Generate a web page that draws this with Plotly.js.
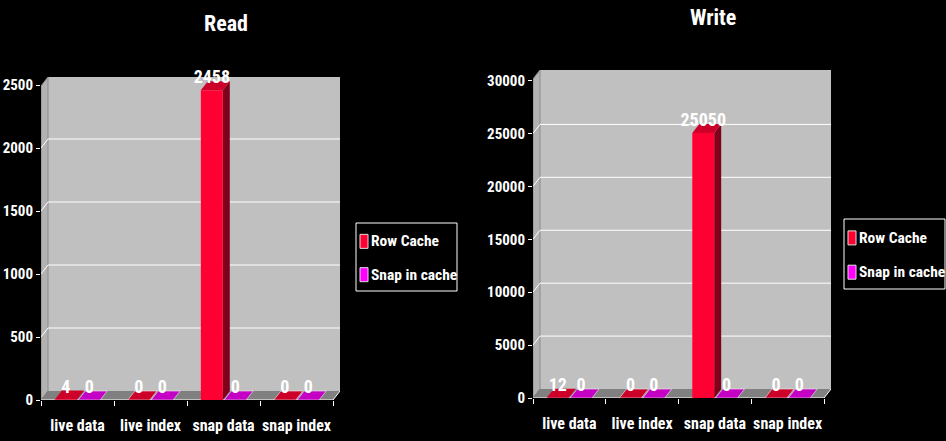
<!DOCTYPE html>
<html>
<head>
<meta charset="utf-8">
<script src="https://cdn.plot.ly/plotly-3.0.1.min.js"></script>
<style>
html,body{margin:0;padding:0;background:#000;}
#chart{width:946px;height:441px;}
</style>
</head>
<body>
<div id="chart"></div>
<script>
// ---- data ----
const categories = ["live data", "live index", "snap data", "snap index"];
const seriesNames = ["Row Cache", "Snap in cache"];
const readRowCache = [4, 0, 2458, 0];
const readSnapInCache = [0, 0, 0, 0];
const writeRowCache = [12, 0, 25050, 0];
const writeSnapInCache = [0, 0, 0, 0];
const readTicks = [0, 500, 1000, 1500, 2000, 2500];
const writeTicks = [0, 5000, 10000, 15000, 20000, 25000, 30000];
const chartTitles = ["Read", "Write"];

// ---- style ----
const FONT = '"Roboto Condensed", "Liberation Sans", sans-serif';
const W = 946, H = 441;
const COLORS = {
  front: ['#ff0033', '#ff00ff'],
  top: ['#cc0028', '#c400c4'],
  side: ['#80001c', '#800080']
};
const BARGAP = 0.36, BARGROUPGAP = 0.06;
const DEPTH_X_PX = 7, DEPTH_Y_PX = 9;

// subplot geometry in pixels (front face of the 3D box)
const panels = [
  {xa: 'x', ya: 'y', left: 41, right: 340, bottom: 400, top: 77, pxPerUnit: 315 / 2500,
   tickvals: readTicks, series: [readRowCache, readSnapInCache], title: chartTitles[0],
   titleX: 226, titleY: 23, legendBox: [356, 223, 457, 291]},
  {xa: 'x2', ya: 'y2', left: 533, right: 831, bottom: 398, top: 70, pxPerUnit: 317.5 / 30000,
   tickvals: writeTicks, series: [writeRowCache, writeSnapInCache], title: chartTitles[1],
   titleX: 713, titleY: 17, legendBox: [844, 219, 945, 289]}
];

const px = v => v / W, py = v => 1 - v / H;
const data = [];
const shapes = [];
const annotations = [];
const layout = {
  width: W, height: H,
  paper_bgcolor: '#000000', plot_bgcolor: 'rgba(0,0,0,0)',
  margin: {l: 0, r: 0, t: 0, b: 0},
  barmode: 'group', bargap: BARGAP, bargroupgap: BARGROUPGAP,
  showlegend: false,
  font: {family: FONT, color: '#ffffff'}
};

panels.forEach((p, pi) => {
  const xName = pi === 0 ? 'xaxis' : 'xaxis2';
  const yName = pi === 0 ? 'yaxis' : 'yaxis2';
  const widthPx = p.right - p.left;
  const slotPx = (widthPx - DEPTH_X_PX) / categories.length;
  const DX = DEPTH_X_PX / slotPx;                 // category units
  const DY = DEPTH_Y_PX / p.pxPerUnit;            // value units
  const yTop = (p.bottom - p.top) / p.pxPerUnit;
  const maxTick = p.tickvals[p.tickvals.length - 1];
  const xr0 = -0.5, xr1 = categories.length - 0.5;

  layout[xName] = {
    domain: [px(p.left), px(p.right)], anchor: p.ya,
    range: [xr0, xr1 + DX], type: 'category',
    tickfont: {color: '#ffffff', size: 16, family: FONT, weight: 'bold'},
    tickangle: 0, showgrid: false, showline: false, zeroline: false,
    ticks: 'outside', tickson: 'boundaries', ticklen: 5, tickcolor: '#ffffff',
    ticklabelstandoff: 14, fixedrange: true
  };
  layout[yName] = {
    domain: [py(p.bottom), py(p.top)], anchor: p.xa,
    range: [0, yTop], tickvals: p.tickvals, ticktext: p.tickvals.map(String),
    tickfont: {color: '#ffffff', size: 15, family: FONT, weight: 'bold'},
    showgrid: false, showline: false, zeroline: false,
    ticks: 'outside', ticklen: 4, tickcolor: '#ffffff', fixedrange: true
  };

  const ref = {xref: p.xa, yref: p.ya, layer: 'below'};
  const poly = (pts, fill, line) => Object.assign({
    type: 'path',
    path: 'M ' + pts.map(q => q[0] + ',' + q[1]).join(' L ') + ' Z',
    fillcolor: fill, line: line || {width: 0}
  }, ref);

  // back wall, left wall, floor
  shapes.push(poly([[xr0 + DX, DY], [xr1 + DX, DY], [xr1 + DX, yTop], [xr0 + DX, yTop]], '#c0c0c0'));
  shapes.push(poly([[xr0, 0], [xr0 + DX, DY], [xr0 + DX, yTop], [xr0, yTop - DY]], '#b2b2b2',
    {color: '#8c8c8c', width: 1}));
  shapes.push(poly([[xr0, 0], [xr1, 0], [xr1 + DX, DY], [xr0 + DX, DY]], '#808080'));
  // gridlines on back wall + slanted stubs on the left wall
  p.tickvals.forEach(t => {
    if (t === 0 || t === maxTick) return;
    shapes.push(Object.assign({type: 'line', x0: xr0 + DX, x1: xr1 + DX, y0: t + DY, y1: t + DY,
      line: {color: '#ffffff', width: 1}}, ref));
    shapes.push(Object.assign({type: 'line', x0: xr0, x1: xr0 + DX, y0: t, y1: t + DY,
      line: {color: '#ffffff', width: 1}}, ref));
  });
  // front floor edge (axis line)
  shapes.push(Object.assign({type: 'line', x0: xr0, x1: xr1, y0: 0, y1: 0,
    line: {color: '#ffffff', width: 1}}, ref));
  shapes.push(Object.assign({type: 'line', x0: xr1, x1: xr1 + DX, y0: 0, y1: DY,
    line: {color: '#ffffff', width: 1}}, ref));

  // bars: front faces via Plotly bars, top/side faces as 3D decoration
  const groupW = 1 - BARGAP;
  const slotW = groupW / p.series.length;
  const barW = slotW * (1 - BARGROUPGAP);
  p.series.forEach((vals, si) => {
    data.push({
      type: 'bar', x: categories, y: vals, name: seriesNames[si],
      xaxis: p.xa, yaxis: p.ya,
      marker: {color: COLORS.front[si], line: {width: 0}},
      text: vals.map(String), textposition: 'outside', cliponaxis: false, constraintext: 'none',
      textfont: {color: '#ffffff', size: 18, family: FONT, weight: 'bold'},
      hoverinfo: 'x+y'
    });
    vals.forEach((v, ci) => {
      const c = ci - groupW / 2 + slotW * (si + 0.5);
      const xl = c - barW / 2, xr = c + barW / 2;
      if (v > 0) {
        shapes.push(poly([[xr, 0], [xr, v], [xr + DX, v + DY], [xr + DX, DY]], COLORS.side[si]));
      }
      shapes.push(poly([[xl, v], [xr, v], [xr + DX, v + DY], [xl + DX, v + DY]], COLORS.top[si],
        {color: '#f0f0f0', width: v === 0 ? 0.6 : 0}));
    });
  });

  // title
  annotations.push({text: p.title, x: px(p.titleX), y: py(p.titleY), xref: 'paper', yref: 'paper',
    xanchor: 'center', yanchor: 'middle', showarrow: false,
    font: {size: 22, color: '#ffffff', family: FONT, weight: 'bold'}});

  // legend box
  const [bx0, by0, bx1, by1] = p.legendBox;
  shapes.push({type: 'rect', xref: 'paper', yref: 'paper', x0: px(bx0), x1: px(bx1), y0: py(by1), y1: py(by0),
    fillcolor: '#000000', line: {color: '#ffffff', width: 1}, layer: 'above'});
  seriesNames.forEach((nm, si) => {
    const cy = by0 + (by1 - by0) * (si === 0 ? 0.27 : 0.76);
    shapes.push({type: 'rect', xref: 'paper', yref: 'paper',
      x0: px(bx0 + 4), x1: px(bx0 + 12), y0: py(cy + 7), y1: py(cy - 7),
      fillcolor: COLORS.front[si], line: {color: '#dddddd', width: 1}, layer: 'above'});
    annotations.push({text: nm, x: px(bx0 + 13), y: py(cy), xref: 'paper', yref: 'paper',
      xanchor: 'left', yanchor: 'middle', showarrow: false,
      font: {size: 15.5, color: '#ffffff', family: FONT, weight: 'bold'}});
  });
});

layout.shapes = shapes;
layout.annotations = annotations;

Plotly.newPlot('chart', data, layout, {displayModeBar: false, staticPlot: true});
</script>
</body>
</html>
